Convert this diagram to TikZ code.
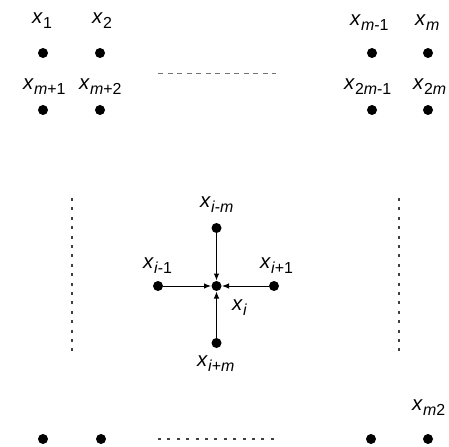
\documentclass[tikz,border=0pt]{standalone}
\usepackage{fontspec}
\setmainfont{Liberation Sans}
\usetikzlibrary{arrows.meta}
\newcommand\xl[1]{\textit{x}\raisebox{-5bp}{\fontsize{16}{17}\selectfont #1}}
\begin{document}
\begin{tikzpicture}[x=1bp,y=-1bp,
  pt/.style={circle,fill=black,inner sep=0pt,minimum size=10bp},
  lab/.style={anchor=base west,inner sep=0pt,font=\fontsize{20.5}{22}\selectfont},
  dotline/.style={line width=1.1bp,dash pattern=on 3bp off 6.4bp,black!75},
  dashline/.style={line width=0.8bp,dash pattern=on 5bp off 4.5bp,black!55},
  arr/.style={line width=1bp,-{Latex[length=7bp,width=5.5bp]},shorten >=0.3bp}]
\useasboundingbox (0,0) rectangle (449,447);
% top rows
\node[pt] (a1) at (43,53) {};
\node[pt] (a2) at (100,53) {};
\node[pt] (a3) at (372,53) {};
\node[pt] (a4) at (428,53) {};
\node[pt] (b1) at (43,110) {};
\node[pt] (b2) at (100,110) {};
\node[pt] (b3) at (372,110) {};
\node[pt] (b4) at (428,110) {};
\node[lab] (la1) at (32,24) {\xl{1}};
\node[lab] (la2) at (92,24) {\xl{2}};
\node[lab] (la3) at (350,26) {\xl{\textit{m}-1}};
\node[lab] (la4) at (415,26) {\xl{\textit{m}}};
\node[lab] (lb1) at (23,90) {\xl{\textit{m}+1}};
\node[lab] (lb2) at (79,90) {\xl{\textit{m}+2}};
\node[lab] (lb3) at (344,90) {\xl{2\textit{m}-1}};
\node[lab] (lb4) at (413,90) {\xl{2\textit{m}}};
\coordinate (t1) at (158,73);
\coordinate (t2) at (276,73);
\draw[dashline] (t1) -- (t2);
% side dashed lines
\coordinate (v1) at (72,198);
\coordinate (v2) at (72,355);
\coordinate (v3) at (399,198);
\coordinate (v4) at (399,355);
\draw[dotline] (v1) -- (v2);
\draw[dotline] (v3) -- (v4);
% centre stencil
\node[pt] (c) at (216.5,286) {};
\node[pt] (n) at (216.5,228) {};
\node[pt] (s) at (216.5,343) {};
\node[pt] (w) at (158,286) {};
\node[pt] (e) at (274,286) {};
\draw[arr] (n) -- (c);
\draw[arr] (s) -- (c);
\draw[arr] (w) -- (c);
\draw[arr] (e) -- (c);
\node[lab] (ln) at (200,208) {\xl{\textit{i}-\textit{m}}};
\node[lab] (lw) at (143,268) {\xl{\textit{i}-1}};
\node[lab] (le) at (260,268) {\xl{\textit{i}+1}};
\node[lab] (lc) at (232,310) {\xl{\textit{i}}};
\node[lab] (ls) at (197,366) {\xl{\textit{i}+\textit{m}}};
% bottom row
\node[pt] (d1) at (43,439) {};
\node[pt] (d2) at (101,439) {};
\node[pt] (d3) at (371,439) {};
\node[pt] (d4) at (428,439) {};
\node[lab] (ld4) at (412,410) {\xl{\textit{m}2}};
\coordinate (u1) at (158,439);
\coordinate (u2) at (276,439);
\draw[dotline] (u1) -- (u2);
\end{tikzpicture}
\end{document}
